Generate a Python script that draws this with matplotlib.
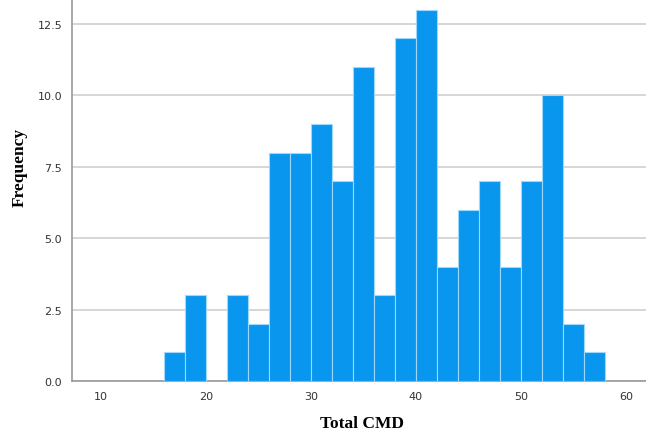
import matplotlib.pyplot as plt
import numpy as np

# histogram of Total CMD, bin width 2
bin_lefts = [16, 18, 20, 22, 24, 26, 28, 30, 32, 34, 36, 38, 40, 42, 44, 46, 48, 50, 52, 54, 56]
counts = [1, 3, 0, 3, 2, 8, 8, 9, 7, 11, 3, 12, 13, 4, 6, 7, 4, 7, 10, 2, 1]
xticks = [10, 20, 30, 40, 50, 60]
yticks = [0.0, 2.5, 5.0, 7.5, 10.0, 12.5]

fig = plt.figure(figsize=(6.46, 4.35), dpi=100)
ax = fig.add_axes([72 / 646, 53 / 435, 1 - 72 / 646, 1 - 53 / 435])

ax.bar(bin_lefts, counts, width=2, align='edge', color='#0896ee',
       edgecolor='#9fd8fa', linewidth=0.8, zorder=3)

ax.set_xlim(7.25, 61.9)
ax.set_ylim(0, 13.38)
ax.set_xticks(xticks)
ax.set_yticks(yticks)
ax.set_yticklabels(['%.1f' % v for v in yticks])
ax.tick_params(length=0, labelsize=8, colors='#333333', pad=7)
ax.yaxis.grid(True, color='#d0d0d0', linewidth=1.2, zorder=0)

for s in ['top', 'right']:
    ax.spines[s].set_visible(False)
for s in ['left', 'bottom']:
    ax.spines[s].set_color('#999999')
    ax.spines[s].set_linewidth(1.2)

# axis titles placed where they sit in the original (its top is cropped)
fig.text(362 / 646, 1 - 424 / 435, 'Total CMD', fontsize=12.5, fontweight='bold',
         family='Liberation Serif', ha='center', va='center')
fig.text(20 / 646, 1 - 167 / 435, 'Frequency', fontsize=12.5, fontweight='bold',
         family='Liberation Serif', ha='center', va='center', rotation=90)

fig.savefig('out.png', dpi=100)
